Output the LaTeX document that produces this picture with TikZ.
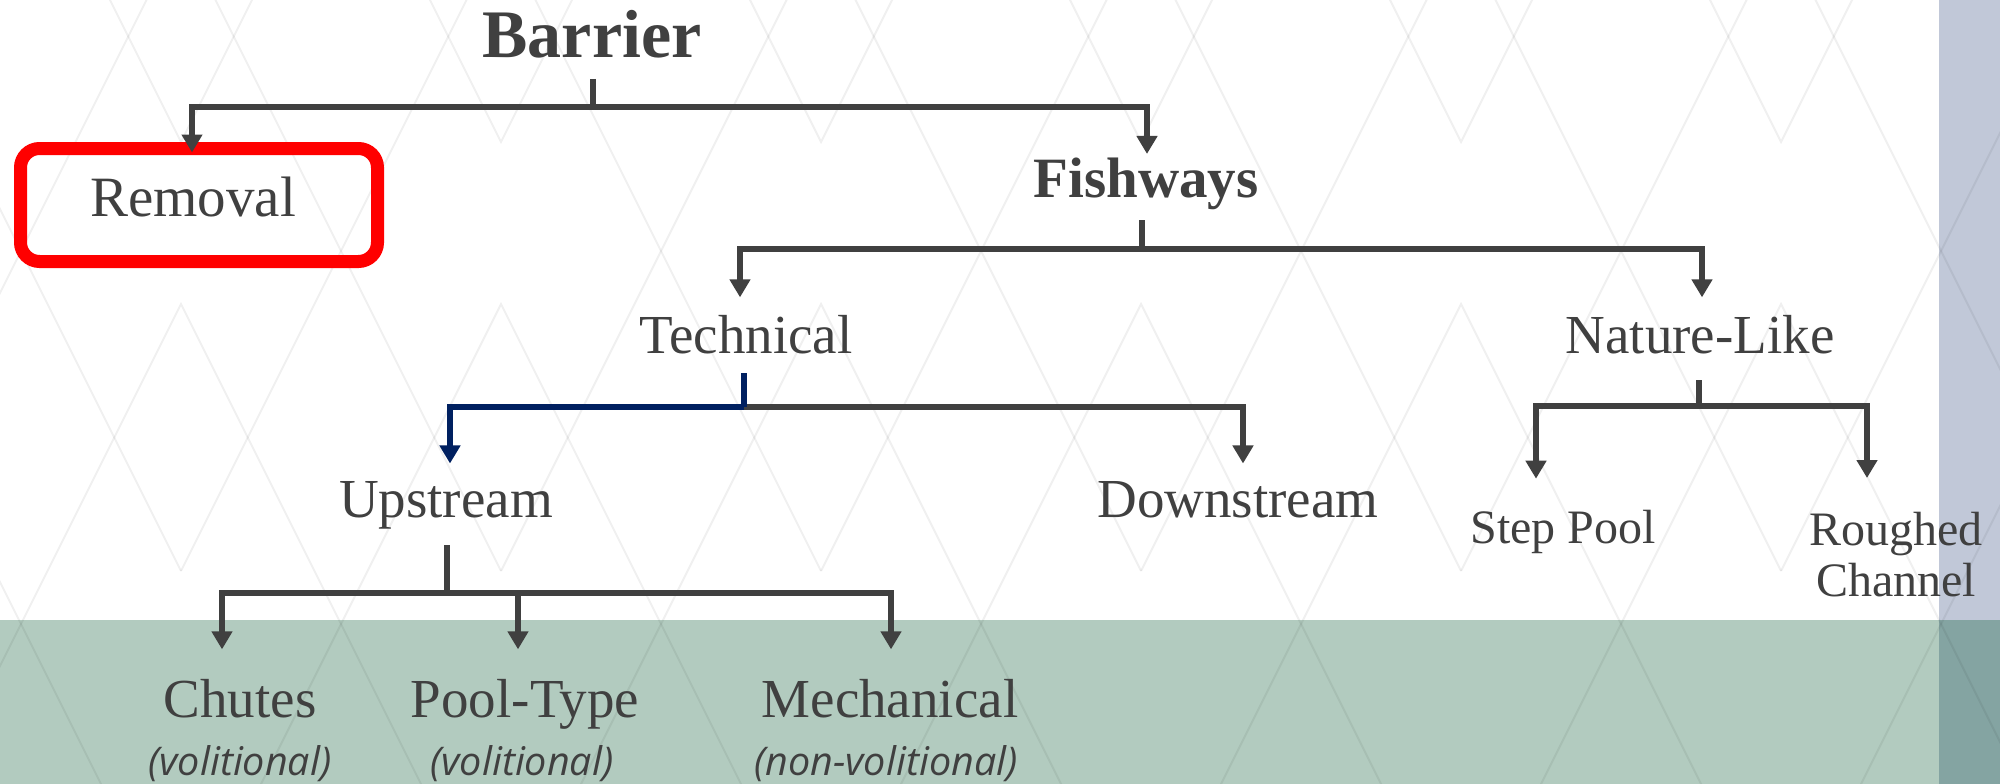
\documentclass[tikz,border=0pt]{standalone}
\usepackage{fontspec}
\setmainfont{Liberation Serif}
\newfontfamily\subsans{Open Sans}
\usetikzlibrary{arrows.meta,calc}
\definecolor{txt}{HTML}{404040}
\definecolor{conn}{HTML}{404040}
\definecolor{navy}{HTML}{002060}
\definecolor{band}{HTML}{B2CBBF}
\definecolor{strip}{HTML}{C1C8D8}
\definecolor{stripband}{HTML}{84A4A2}
\definecolor{redbox}{HTML}{FF0000}
\begin{document}
\begin{tikzpicture}[x=1pt,y=-1pt,
  lbl/.style={text=txt,inner sep=0pt,outer sep=0pt,anchor=base,font=\fontsize{55}{60}\selectfont},
  lblsmall/.style={lbl,font=\fontsize{48}{51}\selectfont},
  lblbold/.style={lbl,font=\bfseries\fontsize{57}{62}\selectfont},
  sublbl/.style={text=txt,inner sep=0pt,outer sep=0pt,anchor=base,font=\subsans\itshape\fontsize{39.5}{42}\selectfont},
  removalbox/.style={draw=redbox,line width=13pt,rounded corners=19pt,minimum width=357pt,minimum height=113pt,
     inner sep=0pt,outer sep=0pt,text=txt,font=\fontsize{57}{62}\selectfont,text height=39pt,text depth=17pt},
  stem/.style={draw=conn,line width=6pt},
  arr/.style={draw=conn,line width=6pt,line join=miter,-{Triangle[width=20pt,length=18pt]}},
  navystem/.style={draw=navy,line width=6pt},
  navyarr/.style={draw=navy,line width=6pt,line join=miter,-{Triangle[width=20pt,length=18pt]}},
  patt/.style={draw=black,draw opacity=0.06,line width=2pt}
]
\useasboundingbox (0,0) rectangle (2000,784);
% background
\fill[white] (0,0) rectangle (2000,784);
\fill[band] (0,620) rectangle (2000,784);
\fill[strip] (1939,0) rectangle (2000,620);
\fill[stripband] (1939,620) rectangle (2000,784);
\begin{scope}
\clip (0,0) rectangle (2000,784);
\foreach \c in {-139,181,...,2101} {
  \draw[patt] (\c-76,-10) -- (\c,142) -- (\c+76,-10);
  \draw[patt] (\c+29.5,-10) -- (\c+320,571);
  \draw[patt] (\c-29.5,-10) -- (\c-320,571);
  \draw[patt] (\c-248,800) -- (\c,304) -- (\c+248,800);
}
\end{scope}

% nodes
\node[lbl,font=\bfseries\fontsize{68}{72}\selectfont] (barrier) at (592,58) {Barrier};
\node[removalbox] (removal) at (199,205) {Removal\hspace*{12pt}};
\node[lblbold] (fishways) at (1146,197) {Fishways};
\node[lbl] (technical) at (746,353) {Technical};
\node[lbl] (naturelike) at (1700,353) {Nature-Like};
\node[lbl] (upstream) at (446,517) {Upstream};
\node[lbl] (downstream) at (1238,517) {Downstream};
\node[lblsmall] (steppool) at (1563,543) {Step Pool};
\node[lblsmall,anchor=north,align=center] (roughed) at (1896,512) {Roughed\\Channel};
\node[lbl] (chutes) at (240,717) {Chutes};
\node[lbl] (pooltype) at (525,717) {Pool-Type};
\node[lbl] (mechanical) at (890,717) {Mechanical};
\node[sublbl] (chutesv) at (240,775) {(volitional)};
\node[sublbl] (pooltypev) at (522,775) {(volitional)};
\node[sublbl] (mechanicalv) at (886,775) {(non-volitional)};

% junctions
\coordinate (jB) at (593,107);
\coordinate (jF) at (1142,249);
\coordinate (jT) at (744,407);
\coordinate (jN) at (1699,406);
\coordinate (jU) at (447,593);

% connectors
\draw[stem] ($(barrier.base)+(1,21)$) -- (jB);
\draw[arr] (jB) -| ([xshift=-7pt,yshift=-4pt]removal.north);
\draw[arr] (jB) -| ([xshift=1pt,yshift=3.5pt]fishways.north);

\draw[stem] ($(fishways.base)+(-4,23)$) -- (jF);
\draw[arr] (jF) -| ([xshift=-6pt,yshift=17.5pt]technical.north);
\draw[arr] (jF) -| ([xshift=2pt,yshift=17.5pt]naturelike.north);

\draw[arr] (jT) -| ([xshift=5pt,yshift=17.5pt]downstream.north);
\draw[navyarr] (jT) -| ([xshift=4pt,yshift=17.5pt]upstream.north);
\draw[navystem] ($(technical.base)+(-2,20)$) -- (jT);

\draw[stem] ($(naturelike.base)+(-1,27)$) -- (jN);
\draw[arr] (jN) -| ([xshift=-27pt,yshift=31pt]steppool.north);
\draw[arr] (jN) -| ([xshift=-29pt,yshift=34pt]roughed.north);

\draw[stem] ($(upstream.base)+(1,28)$) -- (jU);
\draw[arr] (jU) -| ([xshift=-18pt,yshift=29.5pt]chutes.north);
\draw[arr] (jU) -| ([xshift=-7pt,yshift=29.5pt]pooltype.north);
\draw[arr] (jU) -| ([xshift=1pt,yshift=29.5pt]mechanical.north);
\end{tikzpicture}
\end{document}
